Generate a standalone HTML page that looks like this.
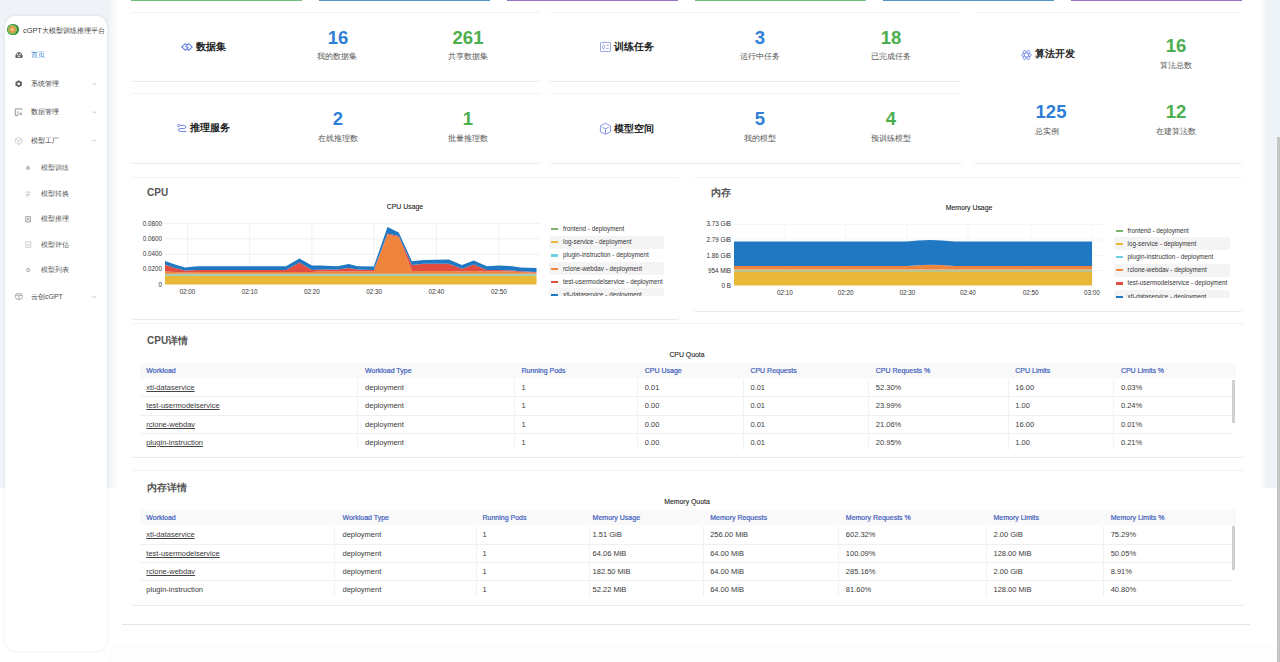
<!DOCTYPE html>
<html><head><meta charset="utf-8">
<style>
*{margin:0;padding:0;box-sizing:border-box}
html,body{width:1280px;height:662px;overflow:hidden;background:#fff;font-family:"Liberation Sans",sans-serif;color:#333}
.abs{position:absolute}
#bgl{left:0;top:0;width:118px;height:488px;background:linear-gradient(90deg,#eff3f7 0,#eef3f7 108px,#f6f9fb 113px,#fff 118px)}
#bgr{left:1262px;top:0;width:18px;height:488px;background:linear-gradient(90deg,#f7fafc 0,#eef3f7 6px)}
#bgb{left:110px;top:645px;width:1167px;height:17px;background:#fdfdfd}
#side{left:5px;top:16px;width:102px;height:635px;background:#fff;border-radius:11px;box-shadow:0 0 3px rgba(0,0,0,.10)}
.bar{top:0;height:1.2px;width:171px}
.card{background:#fff;border-radius:4px;border-top:1px solid #f2f2f2;border-bottom:1px solid #ebebeb}
.num{font-weight:bold;font-size:18.5px;text-align:center;width:80px;line-height:19px}
.blue{color:#2f7fd6}.green{color:#4cae4f}
.lbl{font-size:8px;color:#555;text-align:center;width:80px;line-height:9px}
.ttl{font-size:10.2px;font-weight:bold;color:#222;line-height:12px;white-space:nowrap}
.mi{font-size:7px;color:#484848;line-height:8px;white-space:nowrap}
.ct{font-size:10px;font-weight:bold;color:#555;line-height:12px}
.sm{font-size:6.9px;color:#222;-webkit-text-stroke:0.1px #222;line-height:8px;white-space:nowrap}
.leg{font-size:6.3px;color:#333;line-height:8px;white-space:nowrap}
.ax{font-size:6.3px;color:#333;line-height:8px;white-space:nowrap}
.th{font-size:7px;font-weight:normal;-webkit-text-stroke:0.2px #3f60bc;color:#3f60bc;line-height:8px;white-space:nowrap}
.td{font-size:7.5px;color:#3a3a3a;line-height:8px;white-space:nowrap}
.wl{text-decoration:underline;text-underline-offset:1px;text-decoration-color:#444}
</style></head><body>
<div class="abs" id="bgl"></div>
<div class="abs" id="bgr"></div>
<div class="abs" id="bgb"></div>
<!-- scrollbar -->
<div class="abs" style="left:1277px;top:137px;width:3px;height:525px;background:#c3c6c3"></div>

<!-- sidebar -->
<div class="abs" id="side"></div>
<div class="abs" style="left:7.3px;top:23.6px;width:11.4px;height:11.5px;border-radius:50%;background:radial-gradient(circle at 45% 50%,#f5e0a0 0,#e89040 28%,#8cc060 48%,#2e8a36 62%,#1e6a2a 100%)"></div>
<div class="abs" style="left:23px;top:26px;font-size:7.4px;color:#3a3a3a;line-height:9px;white-space:nowrap">cGPT大模型训练推理平台</div>

<div class="abs mi" style="left:31px;top:51px;color:#2f7fd6">首页</div>
<div class="abs mi" style="left:31px;top:80px">系统管理</div>
<div class="abs mi" style="left:31px;top:108px">数据管理</div>
<div class="abs mi" style="left:31px;top:137px">模型工厂</div>
<div class="abs mi" style="left:41px;top:164px;color:#5a5a5a">模型训练</div>
<div class="abs mi" style="left:41px;top:190px;color:#5a5a5a">模型转换</div>
<div class="abs mi" style="left:41px;top:215px;color:#5a5a5a">模型推理</div>
<div class="abs mi" style="left:41px;top:241px;color:#5a5a5a">模型评估</div>
<div class="abs mi" style="left:41px;top:266px;color:#5a5a5a">模型列表</div>
<div class="abs mi" style="left:31px;top:293px">云创cGPT</div>


<!-- top colored bars -->
<div class="abs bar" style="left:131px;background:#72bb78"></div>
<div class="abs bar" style="left:319px;background:#4f95c0"></div>
<div class="abs bar" style="left:507px;background:#9273c2"></div>
<div class="abs bar" style="left:695px;background:#72bb78"></div>
<div class="abs bar" style="left:883px;background:#4f95c0"></div>
<div class="abs bar" style="left:1071px;background:#9273c2"></div>

<!-- stat cards -->
<div class="abs card" style="left:130px;top:12px;width:411px;height:70px"></div>
<div class="abs card" style="left:130px;top:93px;width:411px;height:71px"></div>
<div class="abs card" style="left:549px;top:12px;width:413px;height:70px"></div>
<div class="abs card" style="left:549px;top:93px;width:413px;height:71px"></div>
<div class="abs card" style="left:974px;top:12px;width:268px;height:152px"></div>

<div class="abs ttl" style="left:196px;top:40.8px">数据集</div>
<div class="abs num blue" style="left:298px;top:28px">16</div>
<div class="abs lbl" style="left:297px;top:52px">我的数据集</div>
<div class="abs num green" style="left:428px;top:28px">261</div>
<div class="abs lbl" style="left:428px;top:52px">共享数据集</div>

<div class="abs ttl" style="left:614px;top:40.8px">训练任务</div>
<div class="abs num blue" style="left:720px;top:28px">3</div>
<div class="abs lbl" style="left:720px;top:52px">运行中任务</div>
<div class="abs num green" style="left:851px;top:28px">18</div>
<div class="abs lbl" style="left:851px;top:52px">已完成任务</div>

<div class="abs ttl" style="left:190px;top:122px">推理服务</div>
<div class="abs num blue" style="left:298px;top:109px">2</div>
<div class="abs lbl" style="left:298px;top:134px">在线推理数</div>
<div class="abs num green" style="left:428px;top:109px">1</div>
<div class="abs lbl" style="left:428px;top:134px">批量推理数</div>

<div class="abs ttl" style="left:614px;top:123px">模型空间</div>
<div class="abs num blue" style="left:720px;top:109px">5</div>
<div class="abs lbl" style="left:720px;top:134px">我的模型</div>
<div class="abs num green" style="left:851px;top:109px">4</div>
<div class="abs lbl" style="left:851px;top:134px">预训练模型</div>

<div class="abs ttl" style="left:1035px;top:48px">算法开发</div>
<div class="abs num green" style="left:1136px;top:36px">16</div>
<div class="abs lbl" style="left:1136px;top:61px">算法总数</div>
<div class="abs num blue" style="left:1011px;top:102px">125</div>
<div class="abs lbl" style="left:1007px;top:127px">总实例</div>
<div class="abs num green" style="left:1136px;top:102px">12</div>
<div class="abs lbl" style="left:1136px;top:127px">在建算法数</div>

<!-- chart cards -->
<div class="abs card" style="left:130px;top:177px;width:550px;height:143px"></div>
<div class="abs card" style="left:693px;top:177px;width:550px;height:135px"></div>
<div class="abs ct" style="left:147px;top:187px">CPU</div>
<div class="abs ct" style="left:711px;top:187px">内存</div>
<svg class="abs" style="left:0;top:0" width="1280" height="662" viewBox="0 0 1280 662">
<line x1="165" y1="223.5" x2="540" y2="223.5" stroke="#eeeeee" stroke-width="0.8"/>
<line x1="165" y1="238.75" x2="540" y2="238.75" stroke="#eeeeee" stroke-width="0.8"/>
<line x1="165" y1="254.2" x2="540" y2="254.2" stroke="#eeeeee" stroke-width="0.8"/>
<line x1="165" y1="269.3" x2="540" y2="269.3" stroke="#eeeeee" stroke-width="0.8"/>
<line x1="187.5" y1="223.5" x2="187.5" y2="284.5" stroke="#eeeeee" stroke-width="0.8"/>
<line x1="249.6" y1="223.5" x2="249.6" y2="284.5" stroke="#eeeeee" stroke-width="0.8"/>
<line x1="311.8" y1="223.5" x2="311.8" y2="284.5" stroke="#eeeeee" stroke-width="0.8"/>
<line x1="374.1" y1="223.5" x2="374.1" y2="284.5" stroke="#eeeeee" stroke-width="0.8"/>
<line x1="436.5" y1="223.5" x2="436.5" y2="284.5" stroke="#eeeeee" stroke-width="0.8"/>
<line x1="498.8" y1="223.5" x2="498.8" y2="284.5" stroke="#eeeeee" stroke-width="0.8"/>
<polygon fill="#EAB839" points="165.00,276.10 175.00,276.10 185.00,276.10 197.50,276.10 286.00,276.10 299.40,276.10 311.90,276.10 320.00,276.10 337.50,276.10 348.75,276.10 357.50,276.10 373.75,276.10 387.50,276.10 398.75,276.10 411.90,276.10 423.75,276.10 448.75,276.10 461.90,276.10 473.75,276.10 486.90,276.10 498.75,276.10 512.50,276.10 520.00,276.10 536.50,276.10 536.50,284.60 520.00,284.60 512.50,284.60 498.75,284.60 486.90,284.60 473.75,284.60 461.90,284.60 448.75,284.60 423.75,284.60 411.90,284.60 398.75,284.60 387.50,284.60 373.75,284.60 357.50,284.60 348.75,284.60 337.50,284.60 320.00,284.60 311.90,284.60 299.40,284.60 286.00,284.60 197.50,284.60 185.00,284.60 175.00,284.60 165.00,284.60"/>
<polygon fill="#a2cfb6" points="165.00,273.80 175.00,273.80 185.00,273.80 197.50,273.80 286.00,273.80 299.40,273.80 311.90,273.80 320.00,273.80 337.50,273.80 348.75,273.80 357.50,273.80 373.75,273.80 387.50,273.80 398.75,273.80 411.90,273.80 423.75,273.80 448.75,273.80 461.90,273.80 473.75,273.80 486.90,273.80 498.75,273.80 512.50,273.80 520.00,273.80 536.50,273.80 536.50,276.10 520.00,276.10 512.50,276.10 498.75,276.10 486.90,276.10 473.75,276.10 461.90,276.10 448.75,276.10 423.75,276.10 411.90,276.10 398.75,276.10 387.50,276.10 373.75,276.10 357.50,276.10 348.75,276.10 337.50,276.10 320.00,276.10 311.90,276.10 299.40,276.10 286.00,276.10 197.50,276.10 185.00,276.10 175.00,276.10 165.00,276.10"/>
<polygon fill="#EF843C" points="165.00,271.50 175.00,272.00 185.00,272.50 197.50,272.00 286.00,272.00 299.40,272.00 311.90,272.00 320.00,271.50 337.50,271.50 348.75,271.50 357.50,271.50 373.75,271.50 387.50,234.40 398.75,236.90 411.90,271.00 423.75,271.00 448.75,271.00 461.90,271.50 473.75,271.00 486.90,271.50 498.75,271.50 512.50,271.50 520.00,272.00 536.50,272.75 536.50,273.80 520.00,273.80 512.50,273.80 498.75,273.80 486.90,273.80 473.75,273.80 461.90,273.80 448.75,273.80 423.75,273.80 411.90,273.80 398.75,273.80 387.50,273.80 373.75,273.80 357.50,273.80 348.75,273.80 337.50,273.80 320.00,273.80 311.90,273.80 299.40,273.80 286.00,273.80 197.50,273.80 185.00,273.80 175.00,273.80 165.00,273.80"/>
<polygon fill="#E24D42" points="165.00,264.75 175.00,268.00 185.00,270.60 197.50,270.00 286.00,270.00 299.40,262.50 311.90,270.00 320.00,269.40 337.50,269.50 348.75,268.10 357.50,269.50 373.75,270.00 387.50,233.40 398.75,235.90 411.90,265.00 423.75,263.75 448.75,263.75 461.90,268.75 473.75,264.40 486.90,270.00 498.75,270.00 512.50,270.50 520.00,271.25 536.50,271.90 536.50,272.75 520.00,272.00 512.50,271.50 498.75,271.50 486.90,271.50 473.75,271.00 461.90,271.50 448.75,271.00 423.75,271.00 411.90,271.00 398.75,236.90 387.50,234.40 373.75,271.50 357.50,271.50 348.75,271.50 337.50,271.50 320.00,271.50 311.90,272.00 299.40,272.00 286.00,272.00 197.50,272.00 185.00,272.50 175.00,272.00 165.00,271.50"/>
<polygon fill="#1F78C1" points="165.00,261.00 175.00,264.50 185.00,267.50 197.50,266.25 286.00,266.25 299.40,258.50 311.90,265.60 320.00,265.60 337.50,266.25 348.75,264.10 357.50,266.25 373.75,266.50 387.50,227.10 398.75,232.50 411.90,261.25 423.75,260.00 448.75,259.50 461.90,265.00 473.75,260.40 486.90,266.25 498.75,265.40 512.50,266.25 520.00,267.50 536.50,268.10 536.50,271.90 520.00,271.25 512.50,270.50 498.75,270.00 486.90,270.00 473.75,264.40 461.90,268.75 448.75,263.75 423.75,263.75 411.90,265.00 398.75,235.90 387.50,233.40 373.75,270.00 357.50,269.50 348.75,268.10 337.50,269.50 320.00,269.40 311.90,270.00 299.40,262.50 286.00,270.00 197.50,270.00 185.00,270.60 175.00,268.00 165.00,264.75"/>
<line x1="734" y1="224.4" x2="1104" y2="224.4" stroke="#f3f3f3" stroke-width="0.8"/>
<line x1="734" y1="240" x2="1104" y2="240" stroke="#f3f3f3" stroke-width="0.8"/>
<line x1="734" y1="255.6" x2="1104" y2="255.6" stroke="#f3f3f3" stroke-width="0.8"/>
<line x1="734" y1="270.6" x2="1104" y2="270.6" stroke="#f3f3f3" stroke-width="0.8"/>
<line x1="785" y1="224.4" x2="785" y2="285.6" stroke="#f3f3f3" stroke-width="0.8"/>
<line x1="845.6" y1="224.4" x2="845.6" y2="285.6" stroke="#f3f3f3" stroke-width="0.8"/>
<line x1="907.3" y1="224.4" x2="907.3" y2="285.6" stroke="#f3f3f3" stroke-width="0.8"/>
<line x1="968" y1="224.4" x2="968" y2="285.6" stroke="#f3f3f3" stroke-width="0.8"/>
<line x1="1030.6" y1="224.4" x2="1030.6" y2="285.6" stroke="#f3f3f3" stroke-width="0.8"/>
<line x1="1092" y1="224.4" x2="1092" y2="285.6" stroke="#f3f3f3" stroke-width="0.8"/>
<polygon fill="#EAB839" points="734.00,271.90 860.00,271.90 907.00,271.90 918.00,271.90 930.00,271.90 942.00,271.90 955.00,271.90 1000.00,271.90 1092.00,271.90 1092.00,285.60 1000.00,285.60 955.00,285.60 942.00,285.60 930.00,285.60 918.00,285.60 907.00,285.60 860.00,285.60 734.00,285.60"/>
<polygon fill="#b9c48e" points="734.00,269.40 860.00,269.40 907.00,269.40 918.00,269.40 930.00,269.40 942.00,269.40 955.00,269.40 1000.00,269.40 1092.00,269.40 1092.00,271.90 1000.00,271.90 955.00,271.90 942.00,271.90 930.00,271.90 918.00,271.90 907.00,271.90 860.00,271.90 734.00,271.90"/>
<polygon fill="#EF843C" points="734.00,266.00 860.00,266.00 907.00,266.00 918.00,265.34 930.00,265.00 942.00,265.25 955.00,266.00 1000.00,266.00 1092.00,266.00 1092.00,269.40 1000.00,269.40 955.00,269.40 942.00,269.40 930.00,269.40 918.00,269.40 907.00,269.40 860.00,269.40 734.00,269.40"/>
<polygon fill="#E24D42" points="734.00,266.00 860.00,266.00 907.00,266.00 918.00,265.21 930.00,264.80 942.00,265.10 955.00,266.00 1000.00,266.00 1092.00,266.00 1092.00,266.00 1000.00,266.00 955.00,266.00 942.00,265.25 930.00,265.00 918.00,265.34 907.00,266.00 860.00,266.00 734.00,266.00"/>
<polygon fill="#1F78C1" points="734.00,241.60 860.00,241.60 907.00,241.60 918.00,240.55 930.00,240.00 942.00,240.40 955.00,241.60 1000.00,241.60 1092.00,241.60 1092.00,266.00 1000.00,266.00 955.00,266.00 942.00,265.10 930.00,264.80 918.00,265.21 907.00,266.00 860.00,266.00 734.00,266.00"/>
</svg>
<div class="abs ax" style="right:1118px;top:219.50px">0.0800</div>
<div class="abs ax" style="right:1118px;top:234.75px">0.0600</div>
<div class="abs ax" style="right:1118px;top:250.20px">0.0400</div>
<div class="abs ax" style="right:1118px;top:265.30px">0.0200</div>
<div class="abs ax" style="right:1118px;top:280.50px">0</div>
<div class="abs ax" style="left:167.5px;width:40px;text-align:center;top:288px">02:00</div>
<div class="abs ax" style="left:229.6px;width:40px;text-align:center;top:288px">02:10</div>
<div class="abs ax" style="left:291.8px;width:40px;text-align:center;top:288px">02:20</div>
<div class="abs ax" style="left:354.1px;width:40px;text-align:center;top:288px">02:30</div>
<div class="abs ax" style="left:416.5px;width:40px;text-align:center;top:288px">02:40</div>
<div class="abs ax" style="left:478.8px;width:40px;text-align:center;top:288px">02:50</div>
<div class="abs ax" style="right:549px;top:220.40px">3.73 GiB</div>
<div class="abs ax" style="right:549px;top:236.00px">2.79 GiB</div>
<div class="abs ax" style="right:549px;top:251.60px">1.86 GiB</div>
<div class="abs ax" style="right:549px;top:266.60px">954 MiB</div>
<div class="abs ax" style="right:549px;top:282.20px">0 B</div>
<div class="abs ax" style="left:765px;width:40px;text-align:center;top:289px">02:10</div>
<div class="abs ax" style="left:825.6px;width:40px;text-align:center;top:289px">02:20</div>
<div class="abs ax" style="left:887.3px;width:40px;text-align:center;top:289px">02:30</div>
<div class="abs ax" style="left:948px;width:40px;text-align:center;top:289px">02:40</div>
<div class="abs ax" style="left:1010.5999999999999px;width:40px;text-align:center;top:289px">02:50</div>
<div class="abs ax" style="left:1072px;width:40px;text-align:center;top:289px">03:00</div>
<div class="abs sm" style="left:345px;width:120px;text-align:center;top:202.5px">CPU Usage</div>
<div class="abs sm" style="left:909px;width:120px;text-align:center;top:204px">Memory Usage</div>
<div class="abs" style="left:549px;top:221.6px;width:115px;height:74.9px;overflow:hidden">
<div class="abs" style="left:2px;top:6.00px;width:7px;height:2.2px;background:#7EB26D"></div>
<div class="abs leg" style="left:14px;top:3.00px">frontend - deployment</div>
<div class="abs" style="left:0;top:14.10px;width:115px;height:13px;background:#f4f4f4;border-radius:2px"></div>
<div class="abs" style="left:2px;top:19.60px;width:7px;height:2.2px;background:#EAB839"></div>
<div class="abs leg" style="left:14px;top:16.60px">log-service - deployment</div>
<div class="abs" style="left:2px;top:32.90px;width:7px;height:2.2px;background:#6ED0E0"></div>
<div class="abs leg" style="left:14px;top:29.90px">plugin-instruction - deployment</div>
<div class="abs" style="left:0;top:40.60px;width:115px;height:13px;background:#f4f4f4;border-radius:2px"></div>
<div class="abs" style="left:2px;top:46.10px;width:7px;height:2.2px;background:#EF843C"></div>
<div class="abs leg" style="left:14px;top:43.10px">rclone-webdav - deployment</div>
<div class="abs" style="left:2px;top:59.20px;width:7px;height:2.2px;background:#E24D42"></div>
<div class="abs leg" style="left:14px;top:56.20px">test-usermodelservice - deployment</div>
<div class="abs" style="left:0;top:66.80px;width:115px;height:13px;background:#f4f4f4;border-radius:2px"></div>
<div class="abs" style="left:2px;top:72.30px;width:7px;height:2.2px;background:#1F78C1"></div>
<div class="abs leg" style="left:14px;top:69.30px">xtl-dataservice - deployment</div>
</div>
<div class="abs" style="left:1114px;top:223.6px;width:116px;height:74.9px;overflow:hidden">
<div class="abs" style="left:1.599999999999909px;top:6.00px;width:7px;height:2.2px;background:#7EB26D"></div>
<div class="abs leg" style="left:13.599999999999909px;top:3.00px">frontend - deployment</div>
<div class="abs" style="left:0;top:13.90px;width:116px;height:13px;background:#f4f4f4;border-radius:2px"></div>
<div class="abs" style="left:1.599999999999909px;top:19.40px;width:7px;height:2.2px;background:#EAB839"></div>
<div class="abs leg" style="left:13.599999999999909px;top:16.40px">log-service - deployment</div>
<div class="abs" style="left:1.599999999999909px;top:32.30px;width:7px;height:2.2px;background:#6ED0E0"></div>
<div class="abs leg" style="left:13.599999999999909px;top:29.30px">plugin-instruction - deployment</div>
<div class="abs" style="left:0;top:40.15px;width:116px;height:13px;background:#f4f4f4;border-radius:2px"></div>
<div class="abs" style="left:1.599999999999909px;top:45.65px;width:7px;height:2.2px;background:#EF843C"></div>
<div class="abs leg" style="left:13.599999999999909px;top:42.65px">rclone-webdav - deployment</div>
<div class="abs" style="left:1.599999999999909px;top:58.90px;width:7px;height:2.2px;background:#E24D42"></div>
<div class="abs leg" style="left:13.599999999999909px;top:55.90px">test-usermodelservice - deployment</div>
<div class="abs" style="left:0;top:66.60px;width:116px;height:13px;background:#f4f4f4;border-radius:2px"></div>
<div class="abs" style="left:1.599999999999909px;top:72.10px;width:7px;height:2.2px;background:#1F78C1"></div>
<div class="abs leg" style="left:13.599999999999909px;top:69.10px">xtl-dataservice - deployment</div>
</div>

<!-- detail cards -->
<div class="abs card" style="left:130px;top:323px;width:1115px;height:135px"></div>
<div class="abs card" style="left:130px;top:470px;width:1115px;height:136px"></div>
<div class="abs ct" style="left:147px;top:335px">CPU详情</div>
<div class="abs ct" style="left:147px;top:482px">内存详情</div>
<div class="abs sm" style="left:627px;width:120px;text-align:center;top:350.5px">CPU Quota</div>
<div class="abs sm" style="left:627px;width:120px;text-align:center;top:498px">Memory Quota</div>
<div class="abs" style="left:140px;top:363.2px;width:1096px;height:14.5px;background:#f9f9f9"></div>
<div class="abs th" style="left:146.3px;top:366.80px">Workload</div>
<div class="abs th" style="left:365.1px;top:366.80px">Workload Type</div>
<div class="abs th" style="left:521.5px;top:366.80px">Running Pods</div>
<div class="abs th" style="left:644.8px;top:366.80px">CPU Usage</div>
<div class="abs th" style="left:750.4px;top:366.80px">CPU Requests</div>
<div class="abs th" style="left:875.8px;top:366.80px">CPU Requests %</div>
<div class="abs th" style="left:1015.3px;top:366.80px">CPU Limits</div>
<div class="abs th" style="left:1120.9px;top:366.80px">CPU Limits %</div>
<div class="abs" style="left:140px;top:396.40px;width:1092px;height:1px;background:#f0f0f0"></div>
<div class="abs" style="left:140px;top:414.60px;width:1092px;height:1px;background:#f0f0f0"></div>
<div class="abs" style="left:140px;top:432.80px;width:1092px;height:1px;background:#f0f0f0"></div>
<div class="abs" style="left:357px;top:379.2px;width:1px;height:70.80px;background:#f2f2f2"></div>
<div class="abs" style="left:514.2px;top:379.2px;width:1px;height:70.80px;background:#f2f2f2"></div>
<div class="abs" style="left:636.5px;top:379.2px;width:1px;height:70.80px;background:#f2f2f2"></div>
<div class="abs" style="left:742.7px;top:379.2px;width:1px;height:70.80px;background:#f2f2f2"></div>
<div class="abs" style="left:867.6px;top:379.2px;width:1px;height:70.80px;background:#f2f2f2"></div>
<div class="abs" style="left:1008px;top:379.2px;width:1px;height:70.80px;background:#f2f2f2"></div>
<div class="abs" style="left:1112.6px;top:379.2px;width:1px;height:70.80px;background:#f2f2f2"></div>
<div class="abs td wl" style="left:146.3px;top:384.20px">xtl-dataservice</div>
<div class="abs td" style="left:365.1px;top:384.20px">deployment</div>
<div class="abs td" style="left:521.5px;top:384.20px">1</div>
<div class="abs td" style="left:644.8px;top:384.20px">0.01</div>
<div class="abs td" style="left:750.4px;top:384.20px">0.01</div>
<div class="abs td" style="left:875.8px;top:384.20px">52.30%</div>
<div class="abs td" style="left:1015.3px;top:384.20px">16.00</div>
<div class="abs td" style="left:1120.9px;top:384.20px">0.03%</div>
<div class="abs td wl" style="left:146.3px;top:402.40px">test-usermodelservice</div>
<div class="abs td" style="left:365.1px;top:402.40px">deployment</div>
<div class="abs td" style="left:521.5px;top:402.40px">1</div>
<div class="abs td" style="left:644.8px;top:402.40px">0.00</div>
<div class="abs td" style="left:750.4px;top:402.40px">0.01</div>
<div class="abs td" style="left:875.8px;top:402.40px">23.99%</div>
<div class="abs td" style="left:1015.3px;top:402.40px">1.00</div>
<div class="abs td" style="left:1120.9px;top:402.40px">0.24%</div>
<div class="abs td wl" style="left:146.3px;top:420.60px">rclone-webdav</div>
<div class="abs td" style="left:365.1px;top:420.60px">deployment</div>
<div class="abs td" style="left:521.5px;top:420.60px">1</div>
<div class="abs td" style="left:644.8px;top:420.60px">0.00</div>
<div class="abs td" style="left:750.4px;top:420.60px">0.01</div>
<div class="abs td" style="left:875.8px;top:420.60px">21.06%</div>
<div class="abs td" style="left:1015.3px;top:420.60px">16.00</div>
<div class="abs td" style="left:1120.9px;top:420.60px">0.01%</div>
<div class="abs td wl" style="left:146.3px;top:438.80px">plugin-instruction</div>
<div class="abs td" style="left:365.1px;top:438.80px">deployment</div>
<div class="abs td" style="left:521.5px;top:438.80px">1</div>
<div class="abs td" style="left:644.8px;top:438.80px">0.00</div>
<div class="abs td" style="left:750.4px;top:438.80px">0.01</div>
<div class="abs td" style="left:875.8px;top:438.80px">20.95%</div>
<div class="abs td" style="left:1015.3px;top:438.80px">1.00</div>
<div class="abs td" style="left:1120.9px;top:438.80px">0.21%</div>
<div class="abs" style="left:1231.8px;top:380px;width:3px;height:42.5px;background:#d0d0d0"></div>
<div class="abs" style="left:140px;top:510.3px;width:1096px;height:14.5px;background:#f9f9f9"></div>
<div class="abs th" style="left:146.3px;top:513.90px">Workload</div>
<div class="abs th" style="left:342.5px;top:513.90px">Workload Type</div>
<div class="abs th" style="left:482.5px;top:513.90px">Running Pods</div>
<div class="abs th" style="left:592.6px;top:513.90px">Memory Usage</div>
<div class="abs th" style="left:710.2px;top:513.90px">Memory Requests</div>
<div class="abs th" style="left:845.8px;top:513.90px">Memory Requests %</div>
<div class="abs th" style="left:993.5px;top:513.90px">Memory Limits</div>
<div class="abs th" style="left:1110.7px;top:513.90px">Memory Limits %</div>
<div class="abs" style="left:140px;top:543.50px;width:1092px;height:1px;background:#f0f0f0"></div>
<div class="abs" style="left:140px;top:561.70px;width:1092px;height:1px;background:#f0f0f0"></div>
<div class="abs" style="left:140px;top:579.90px;width:1092px;height:1px;background:#f0f0f0"></div>
<div class="abs" style="left:334.3px;top:526.3px;width:1px;height:70.80px;background:#f2f2f2"></div>
<div class="abs" style="left:475.7px;top:526.3px;width:1px;height:70.80px;background:#f2f2f2"></div>
<div class="abs" style="left:589px;top:526.3px;width:1px;height:70.80px;background:#f2f2f2"></div>
<div class="abs" style="left:703px;top:526.3px;width:1px;height:70.80px;background:#f2f2f2"></div>
<div class="abs" style="left:837.6px;top:526.3px;width:1px;height:70.80px;background:#f2f2f2"></div>
<div class="abs" style="left:986.2px;top:526.3px;width:1px;height:70.80px;background:#f2f2f2"></div>
<div class="abs" style="left:1102.5px;top:526.3px;width:1px;height:70.80px;background:#f2f2f2"></div>
<div class="abs td wl" style="left:146.3px;top:531.30px">xtl-dataservice</div>
<div class="abs td" style="left:342.5px;top:531.30px">deployment</div>
<div class="abs td" style="left:482.5px;top:531.30px">1</div>
<div class="abs td" style="left:592.6px;top:531.30px">1.51 GiB</div>
<div class="abs td" style="left:710.2px;top:531.30px">256.00 MiB</div>
<div class="abs td" style="left:845.8px;top:531.30px">602.32%</div>
<div class="abs td" style="left:993.5px;top:531.30px">2.00 GiB</div>
<div class="abs td" style="left:1110.7px;top:531.30px">75.29%</div>
<div class="abs td wl" style="left:146.3px;top:549.50px">test-usermodelservice</div>
<div class="abs td" style="left:342.5px;top:549.50px">deployment</div>
<div class="abs td" style="left:482.5px;top:549.50px">1</div>
<div class="abs td" style="left:592.6px;top:549.50px">64.06 MiB</div>
<div class="abs td" style="left:710.2px;top:549.50px">64.00 MiB</div>
<div class="abs td" style="left:845.8px;top:549.50px">100.09%</div>
<div class="abs td" style="left:993.5px;top:549.50px">128.00 MiB</div>
<div class="abs td" style="left:1110.7px;top:549.50px">50.05%</div>
<div class="abs td wl" style="left:146.3px;top:567.70px">rclone-webdav</div>
<div class="abs td" style="left:342.5px;top:567.70px">deployment</div>
<div class="abs td" style="left:482.5px;top:567.70px">1</div>
<div class="abs td" style="left:592.6px;top:567.70px">182.50 MiB</div>
<div class="abs td" style="left:710.2px;top:567.70px">64.00 MiB</div>
<div class="abs td" style="left:845.8px;top:567.70px">285.16%</div>
<div class="abs td" style="left:993.5px;top:567.70px">2.00 GiB</div>
<div class="abs td" style="left:1110.7px;top:567.70px">8.91%</div>
<div class="abs td" style="left:146.3px;top:585.90px">plugin-instruction</div>
<div class="abs td" style="left:342.5px;top:585.90px">deployment</div>
<div class="abs td" style="left:482.5px;top:585.90px">1</div>
<div class="abs td" style="left:592.6px;top:585.90px">52.22 MiB</div>
<div class="abs td" style="left:710.2px;top:585.90px">64.00 MiB</div>
<div class="abs td" style="left:845.8px;top:585.90px">81.60%</div>
<div class="abs td" style="left:993.5px;top:585.90px">128.00 MiB</div>
<div class="abs td" style="left:1110.7px;top:585.90px">40.80%</div>
<div class="abs" style="left:1231.8px;top:526.3px;width:3px;height:43.7px;background:#d0d0d0"></div>

<div class="abs" style="left:122px;top:624px;width:1128px;height:1px;background:#e6e6e6"></div>
<svg class="abs" style="left:0;top:0" width="1280" height="662" viewBox="0 0 1280 662" fill="none">
<!-- sidebar icons -->
<path d="M15.6,57.9 A3.7,4.2 0 1 1 22.4,57.9 Z" fill="#6a6a6a"/>
<circle cx="17.6" cy="54.3" r="0.8" fill="#fff"/><circle cx="20.3" cy="54.3" r="0.8" fill="#fff"/><circle cx="19" cy="56.3" r="0.9" fill="#fff"/>
<polygon points="18.7,80.2 21.9,82 21.9,85.6 18.7,87.3 15.5,85.6 15.5,82" fill="#5f5f5f"/>
<circle cx="18.7" cy="83.8" r="1.4" fill="#fff"/>
<path d="M15.3,108.9 H21.6 V110.3 M15.3,108.9 V115.6 H18 M17,112 H18.8 M17,114 H18.5 M19.5,112.5 L21.8,115.2 M21.8,112.5 L19.5,115.2" stroke="#8a8a8a" stroke-width="0.9"/>
<path d="M18.7,137.2 L21.8,139 V142.7 L18.7,144.5 L15.6,142.7 V139 Z M18.7,140.8 V144.5 M15.6,139 L18.7,140.8 L21.8,139" stroke="#d0d0d0" stroke-width="0.9"/>
<path d="M27.8,166.2 V170.2 M25.9,168.2 H29.8 M26.5,167 A1.6,1.6 0 1 1 29.2,169.4" stroke="#9a9a9a" stroke-width="0.8"/>
<path d="M26,192 H29 L30.2,193.5 M26,194.5 H28.5 L29.8,196.3 M26.5,196.3 H28" stroke="#aaa" stroke-width="0.8"/>
<path d="M25.8,216.6 H30.4 V222 H25.8 Z M27,218 L29.2,220.6 M29.2,218 L27,220.6" stroke="#8a8a8a" stroke-width="0.8"/>
<path d="M25.8,241.8 H30.8 V247.4 H25.8 Z M26.8,246 L28,244.4 L29,245.4 L30,244" stroke="#bbb" stroke-width="0.7"/>
<path d="M26.4,270 A1.8,1.8 0 1 1 30,270 A1.8,1.8 0 1 1 26.4,270 M28.2,268.2 V271.8" stroke="#aaa" stroke-width="0.8"/>
<path d="M15.2,296.4 A3.6,3.2 0 1 1 22.4,296.4 A3.6,3.2 0 1 1 15.2,296.4 M15.4,295.3 H22.2 M18.8,295.3 V299.5" stroke="#999" stroke-width="0.8"/>
<!-- chevrons -->
<path d="M92.6,83 L94.4,84.8 L96.2,83" stroke="#aaa" stroke-width="0.7"/>
<path d="M92.6,111.4 L94.4,113.2 L96.2,111.4" stroke="#aaa" stroke-width="0.7"/>
<path d="M92.6,141.6 L94.4,139.8 L96.2,141.6" stroke="#aaa" stroke-width="0.7"/>
<path d="M92.6,296.2 L94.4,298 L96.2,296.2" stroke="#aaa" stroke-width="0.7"/>
<!-- card icons -->
<path d="M185.4,43.6 L181.8,47 L185.4,50.4 L187,48.9 M188.6,43.6 L192.2,47 L188.6,50.4 L187,48.9 M185.4,43.6 L187,45.1 M188.6,43.6 L187,45.1 M185.6,46.6 L187,45.1 M188.4,47.4 L187,48.9 M185.6,46.6 L188.4,47.4" stroke="#6b86e3" stroke-width="1.15" stroke-linejoin="round"/>
<rect x="600.5" y="42.4" width="10" height="9.1" rx="0.6" stroke="#8fa0e6" stroke-width="0.9"/>
<path d="M603.5,44.6 L604.8,47 L603.5,49.4 L602.2,47 Z M606,45.4 H608.8 M606,48.4 H608.8" stroke="#8fa0e6" stroke-width="0.8"/>
<path d="M180,125.4 H184.2 A1.55,1.55 0 0 1 184.2,128.5 H180 A1.45,1.45 0 0 0 180,131.4 H185.8" stroke="#6f84e2" stroke-width="0.95"/>
<circle cx="178.6" cy="125.5" r="1.25" stroke="#6f84e2" stroke-width="0.9"/>
<circle cx="185.6" cy="131.4" r="0.75" fill="#6f84e2"/>
<path d="M605.5,123.2 L610.6,126 V131.6 L605.5,134.4 L600.4,131.6 V126 Z M602.2,127.2 L605.5,128.9 L608.8,127.2 M605.5,128.9 V133.8" stroke="#7a8fe6" stroke-width="0.95" stroke-linejoin="round"/>
<g stroke="#7a8fe8" stroke-width="0.8" transform="translate(1026.5,55)">
<ellipse rx="5.2" ry="2" /><ellipse rx="5.2" ry="2" transform="rotate(60)"/><ellipse rx="5.2" ry="2" transform="rotate(-60)"/>
</g>
</svg>
</body></html>
